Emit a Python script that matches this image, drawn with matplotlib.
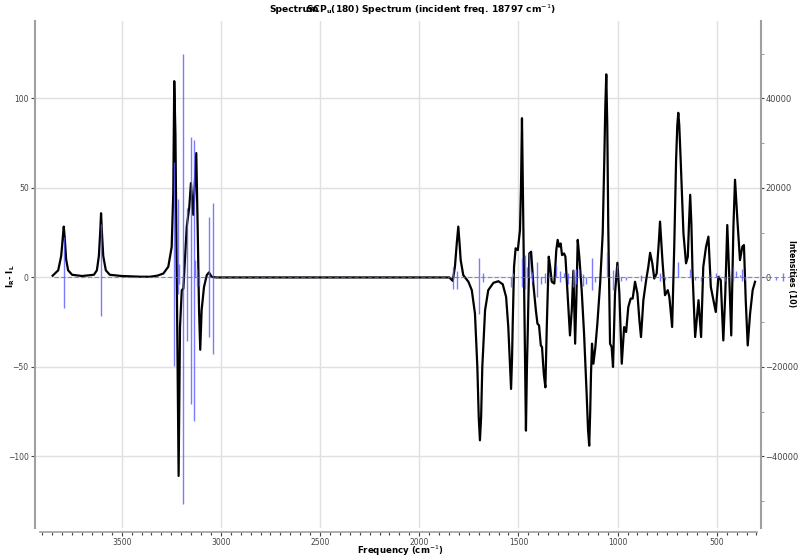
import matplotlib
matplotlib.use("Agg")
import matplotlib.pyplot as plt
from matplotlib.ticker import MultipleLocator, FixedLocator

# ROA curve (left axis)
curve_freq = [3848, 3820, 3805, 3797, 3792, 3787, 3780, 3770, 3750, 3700, 3640, 3625, 3615, 3608, 3604,
              3600, 3593, 3580, 3560, 3500, 3400, 3357, 3320, 3290, 3265, 3248, 3240, 3235, 3229, 3220,
              3213, 3206, 3197, 3189, 3181, 3172, 3159, 3151, 3139, 3130, 3124, 3117, 3110, 3104, 3097,
              3085, 3071, 3060, 3046, 3021, 2500, 1900, 1848, 1831, 1820, 1810, 1803, 1796, 1791, 1778,
              1752, 1735, 1719, 1707, 1700, 1694, 1688, 1682, 1668, 1652, 1626, 1601, 1579, 1562, 1551,
              1544, 1537, 1532, 1529, 1522, 1514, 1503, 1492, 1487, 1482, 1477, 1470, 1462, 1457, 1453,
              1445, 1436, 1425, 1412, 1404, 1396, 1387, 1381, 1372, 1364, 1357, 1347, 1340, 1332, 1319,
              1309, 1302, 1295, 1287, 1280, 1270, 1263, 1253, 1246, 1240, 1231, 1223, 1214, 1208, 1201,
              1193, 1181, 1169, 1156, 1149, 1143, 1138, 1134, 1129, 1122, 1112, 1102, 1088, 1075, 1067,
              1062, 1057, 1052, 1047, 1042, 1038, 1030, 1023, 1013, 1001, 991, 979, 967, 957, 946,
              934, 924, 912, 900, 890, 882, 870, 856, 845, 836, 825, 815, 803, 792, 786,
              780, 774, 761, 747, 739, 725, 714, 705, 699, 694, 689, 682, 668, 655, 646,
              640, 634, 628, 622, 609, 592, 579, 568, 554, 542, 530, 517, 505, 492, 480,
              467, 457, 447, 437, 427, 416, 408, 396, 383, 371, 363, 354, 344, 332, 319, 307]
curve_val = [1, 4, 12, 22, 28.4, 22, 10, 4, 1.5, 0.8, 1.5, 4, 12, 26, 35.9,
             26, 12, 4, 1.5, 0.8, 0.4, 0.4, 1, 2.2, 6, 17, 47, 109.7, 80, -27.7,
             -110.9, -27.7, -7.1, -6.2, 9.7, 28.4, 39.6, 52.7, 35, 56.4, 69.5, 28.4, -18.3, -40.4, -18.3,
             -5.3, 1.3, 2.8, 0.3, 0, 0, 0, 0, -1.9, 6, 20, 28.4, 18, 9.7, 1.3,
             -2.4, -7.1, -20.2, -50, -78, -91, -78, -50, -18.3, -7.1, -3, -2.1, -3.8, -10.9, -27.7,
             -45, -62.3, -45, -27.7, 6, 16.3, 15.3, 26.5, 50, 89, 45, -20, -85.6, -50, -31,
             13.4, 14.4, -3.4, -18.3, -25.8, -26.8, -38, -38.9, -53.8, -61.4, -27.7, 11.6, 6, -2.4, -3.4,
             15.3, 21, 17.2, 19, 12.5, 13.4, 11.6, -7.1, -20.2, -32.4, -18.3, 3.7, -37, -12.7, 21,
             11.6, -7.1, -31.4, -65, -85, -94, -75, -53.8, -37, -48.2, -38.9, -25.8, -3.4, 24.7, 65.8,
             95, 113.5, 85, 28.4, -10, -37, -38.9, -50, -9, 8.2, -9, -48.2, -27.7, -30.5, -16.5,
             -11.8, -11.8, -2.4, -9, -24, -33.3, -12.7, -1.5, 6, 13.8, 7.9, -0.6, 2.2, 20, 31.2,
             20, 9.7, -9.9, -7.1, -10.9, -27.7, 19, 65.8, 85, 92, 85, 65.8, 24.7, 7.9, 11.6,
             30, 46.2, 30, 2.2, -33.3, -12.7, -33.3, 6, 17.2, 22.8, -5.3, -12.7, -19.3, 0.3, -1.5,
             -35.2, -9, 29.3, 0.3, -32.4, 28.4, 54.6, 32.1, 9.7, 17.2, 18.1, -12.7, -38, -20.2, -7.1, -2.4]

# stick intensities (right axis)
stick_freq = [3792, 3792, 3604, 3604, 3236, 3236, 3218, 3218, 3212, 3212, 3193, 3193, 3172, 3172,
              3149, 3149, 3135, 3135, 3130, 3118, 3118, 3110, 3061, 3061, 3038, 3038,
              1831, 1831, 1811, 1811, 1697, 1697, 1680, 1680, 1537, 1527, 1480, 1480, 1468, 1468,
              1457, 1445, 1432, 1432, 1408, 1408, 1385, 1365, 1365, 1345, 1310, 1290, 1290, 1270,
              1250, 1250, 1226, 1226, 1210, 1210, 1195, 1175, 1175, 1160, 1130, 1130, 1115, 1055,
              1024, 1024, 1001, 985, 960, 882, 882, 840, 786, 786, 760, 694, 634, 610, 580, 540,
              505, 490, 460, 416, 416, 405, 383, 371, 371, 360, 250, 200, 166, 166, 130]
stick_int = [9100, -6800, 12000, -8700, 25900, -19700, 17600, -3600, 3000, -1500, 49900, -50600, 15500, -14100,
             31500, -28300, 30800, -32000, 3900, 2000, -2000, -2000, 13600, -13300, 16600, -17000,
             2400, -2500, 1500, -2500, 4300, -8100, 1100, -1100, -2200, 1100, 4300, -2100, 5000, -2500,
             2400, 5400, 1300, -1000, 3500, -4300, -1500, 1000, -1200, 800, 2800, 1500, -1000, 900,
             1000, -1500, 2000, -2100, 1800, -1500, 1800, 700, -2000, -1500, 4300, -2800, -1000, 5800,
             1600, -2800, 2800, -700, -500, 600, -900, 300, 1100, -700, -500, 3500, 1800, -500, -900, 600,
             1100, 600, -900, 2400, -700, 1500, 600, 1800, -700, -500, 400, -500, 900, -900, 500]

W, H = 800, 557
fig = plt.figure(figsize=(8, 5.57), dpi=100)
ax = fig.add_axes([35 / W, 1 - 528 / H, 726 / W, 507 / H])
ax2 = ax.twinx()

spine_col = "#a0a0a0"
txt_col = "#444444"

ax.plot(curve_freq, curve_val, color="black", lw=1.6, zorder=3)
ax.set_xlim(3937, 277)
ax.set_ylim(-140, 143.3)
ax2.set_ylim(-56000, 57320)

ax2.vlines(stick_freq, 0, stick_int, color="#5a5aff", lw=1, alpha=0.8, clip_on=False)
ax2.plot([3840, 110], [0, 0], color="#5a5aff", lw=0.8, alpha=0.7, ls=(0, (4, 2)), clip_on=False)

ax.xaxis.set_major_locator(MultipleLocator(500))
ax.xaxis.set_minor_locator(MultipleLocator(50))
ax.yaxis.set_major_locator(FixedLocator([-100, -50, 0, 50, 100]))
ax2.yaxis.set_major_locator(FixedLocator([-40000, -20000, 0, 20000, 40000]))
ax2.yaxis.set_minor_locator(FixedLocator([-50000, -30000, -10000, 10000, 30000, 50000]))

ax.grid(True, color="#e0e0e0", lw=1)
ax.set_axisbelow(True)

for a in (ax, ax2):
    a.spines["top"].set_visible(False)
    for s in ("left", "right", "bottom"):
        a.spines[s].set_color(spine_col)
        a.spines[s].set_linewidth(1.5)
ax.spines["right"].set_visible(False)
ax2.spines["left"].set_visible(False)
ax2.spines["bottom"].set_visible(False)
ax.spines["bottom"].set_position(("outward", 3))
ax.spines["bottom"].set_bounds(3912, 297)
ax.spines["bottom"].set_linewidth(1.2)

ax.tick_params(axis="both", labelsize=5.5, colors=txt_col, length=3, width=0.8, pad=1.5)
ax.tick_params(axis="x", pad=1.2)
ax.tick_params(axis="x", which="minor", length=1.8, width=0.8, colors=txt_col)
ax2.tick_params(axis="y", labelsize=6, colors=txt_col, length=2.5, width=0.8, pad=0.8)
ax2.tick_params(axis="y", which="minor", length=1.8, width=0.8, colors=spine_col)

fig.text(400 / W, 1 - 551 / H, "Frequency (cm$^{-1}$)", ha="center", va="center",
         fontsize=6.2, fontweight="bold")
fig.text(11 / W, 1 - 276 / H, "I$_\\mathbf{R}$- I$_\\mathbf{L}$", rotation=90, ha="center", va="center",
         fontsize=6.2, fontweight="bold")
fig.text(792 / W, 1 - 274 / H, "Intensities (10)", rotation=-90, ha="center", va="center",
         fontsize=5.6, fontweight="bold")

fig.text(269 / W, 1 - 10 / H, "Spectrum", ha="left", va="center", fontsize=6.6, fontweight="bold")
fig.text(306 / W, 1 - 10 / H, "SCP$_\\mathbf{u}$(180) Spectrum (incident freq. 18797 cm$^{-1}$)",
         ha="left", va="center", fontsize=6.6, fontweight="bold")

fig.savefig("out.png", dpi=100)
